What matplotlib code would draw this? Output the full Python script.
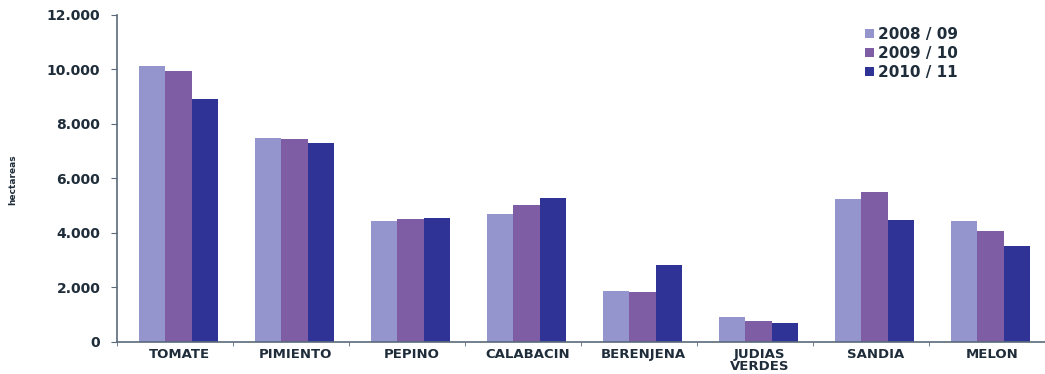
import numpy as np
import matplotlib.pyplot as plt
from matplotlib.ticker import FuncFormatter, FixedLocator

cultivos = ['TOMATE', 'PIMIENTO', 'PEPINO', 'CALABACIN', 'BERENJENA',
            'JUDIAS\nVERDES', 'SANDIA', 'MELON']
campanas = ['2008 / 09', '2009 / 10', '2010 / 11']

# superficie en hectareas por campaña
sup_0809 = [10140, 7500, 4440, 4710, 1860, 930, 5240, 4430]
sup_0910 = [9945, 7460, 4500, 5030, 1825, 785, 5505, 4060]
sup_1011 = [8905, 7315, 4550, 5275, 2840, 695, 4465, 3525]

colores = ['#9595CE', '#7E5DA5', '#303396']
texto = '#1f2d3a'

plt.rcParams['font.family'] = 'DejaVu Sans'
fig = plt.figure(figsize=(10.45, 3.74), dpi=100)
ax = fig.add_axes([0.112, 0.0856, 0.888, 0.8744])

x = np.arange(len(cultivos))
ancho = 0.225
desplaz = [-0.195, 0.03, 0.255]
for serie, lab, col, d in zip([sup_0809, sup_0910, sup_1011], campanas, colores, desplaz):
    ax.bar(x + d, serie, width=ancho, color=col, label=lab, linewidth=0)

ax.set_xlim(-0.5, len(cultivos) - 0.5)
ax.set_ylim(0, 12000)
ax.set_yticks(np.arange(0, 12001, 2000))
ax.yaxis.set_major_formatter(FuncFormatter(lambda v, p: f'{int(v):,}'.replace(',', '.')))

ax.set_xticks(x + 0.04)
ax.set_xticklabels(cultivos, fontsize=9.5, fontweight='bold', color=texto, linespacing=0.95)
ax.xaxis.set_minor_locator(FixedLocator(np.arange(-0.5, len(cultivos) + 0.5, 1)))
ax.tick_params(axis='x', which='major', length=0, pad=4)
ax.tick_params(axis='x', which='minor', length=3, color='#5a6a7a', direction='out')
ax.tick_params(axis='y', length=4, color='#5a6a7a', labelsize=10, labelcolor=texto, pad=8)
for t in ax.get_yticklabels():
    t.set_fontweight('bold')

for s in ['top', 'right']:
    ax.spines[s].set_visible(False)
for s in ['left', 'bottom']:
    ax.spines[s].set_color('#5a6a7a')
    ax.spines[s].set_linewidth(1.2)

fig.text(0.012, 0.52, 'hectareas', rotation=90, fontsize=6.5, fontweight='bold',
         color=texto, ha='center', va='center')

leg = ax.legend(loc='upper left', bbox_to_anchor=(0.795, 0.995), frameon=False,
                prop={'size': 11, 'weight': 'bold'}, handlelength=0.55,
                handleheight=0.55, handletextpad=0.3, labelspacing=0.25,
                borderaxespad=0.3)
for t in leg.get_texts():
    t.set_color(texto)

fig.savefig('out.png', dpi=100)
